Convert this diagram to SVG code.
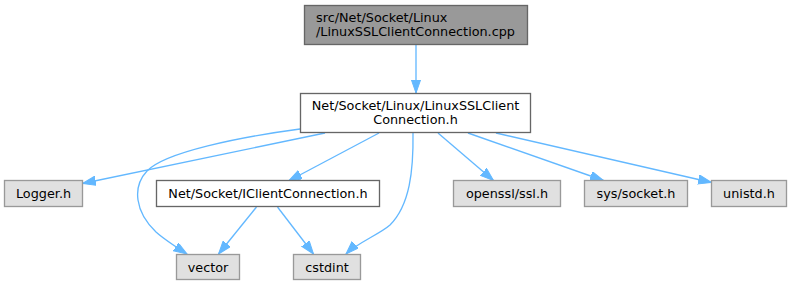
<svg xmlns="http://www.w3.org/2000/svg" width="792" height="285" viewBox="0 0 792 285">
<style>
text{font-family:"DejaVu Sans",sans-serif;font-size:12.8px;fill:#000}
.c{text-anchor:middle}
.g rect{fill:#e0e0e0;stroke:#999999;stroke-width:1.33}
.e path{fill:none;stroke:#63b8ff;stroke-width:1.33}
</style>
<defs>
<marker id="a" markerUnits="userSpaceOnUse" markerWidth="14" markerHeight="10" refX="13.3" refY="4.67" orient="auto" viewBox="0 0 14 10">
<path d="M0,0 L13.3,4.67 L0,9.33 z" fill="#63b8ff" stroke="#63b8ff" stroke-width="1"/>
</marker>
</defs>
<rect width="792" height="285" fill="#fff"/>
<g class="e" id="edges">
<path d="M416,45 L416,93" marker-end="url(#a)"/>
<path d="M325,133 L82.5,183.5" marker-end="url(#a)"/>
<path d="M300,129 C240,137 165,152 147,171 C132,187 135,212 156,232 C165,240 176,247 187,254" marker-end="url(#a)"/>
<path d="M379,133 L288.5,181" marker-end="url(#a)"/>
<path d="M256.5,207 L218.5,254" marker-end="url(#a)"/>
<path d="M277.5,207 L313.5,254" marker-end="url(#a)"/>
<path d="M413,133 C413.5,170 410,205 390,225 C380,234 357,243 346,254" marker-end="url(#a)"/>
<path d="M438,133 L493.5,180.5" marker-end="url(#a)"/>
<path d="M468,133 L603.5,180.5" marker-end="url(#a)"/>
<path d="M496,133 L711.5,182.5" marker-end="url(#a)"/>
</g>
<g id="n_cpp">
<rect x="304.5" y="5.5" width="223" height="39" fill="#999999" stroke="#666666" stroke-width="1.33"/>
<text x="316" y="21.5">src/Net/Socket/Linux</text>
<text x="316" y="35.8">/LinuxSSLClientConnection.cpp</text>
</g>
<g id="n_main">
<rect x="300.5" y="93.5" width="230" height="39" fill="#ffffff" stroke="#666666" stroke-width="1.33"/>
<text class="c" x="415.5" y="110.3">Net/Socket/Linux/LinuxSSLClient</text>
<text class="c" x="415.5" y="124">Connection.h</text>
</g>
<g id="n_logger" class="g">
<rect x="4.5" y="180.5" width="78" height="26"/>
<text class="c" x="43.5" y="198">Logger.h</text>
</g>
<g id="n_iclient">
<rect x="156.5" y="180.5" width="223" height="26" fill="#ffffff" stroke="#666666" stroke-width="1.33"/>
<text class="c" x="268" y="198">Net/Socket/IClientConnection.h</text>
</g>
<g id="n_vector" class="g">
<rect x="176.5" y="254.5" width="63" height="25"/>
<text class="c" x="208" y="271.5">vector</text>
</g>
<g id="n_cstdint" class="g">
<rect x="293.5" y="254.5" width="67" height="25"/>
<text class="c" x="327" y="271.5">cstdint</text>
</g>
<g id="n_openssl" class="g">
<rect x="453.5" y="180.5" width="107" height="26"/>
<text class="c" x="507" y="198">openssl/ssl.h</text>
</g>
<g id="n_socket" class="g">
<rect x="584.5" y="180.5" width="103" height="26"/>
<text class="c" x="636" y="198">sys/socket.h</text>
</g>
<g id="n_unistd" class="g">
<rect x="711.5" y="180.5" width="75" height="26"/>
<text class="c" x="749" y="198">unistd.h</text>
</g>
</svg>
